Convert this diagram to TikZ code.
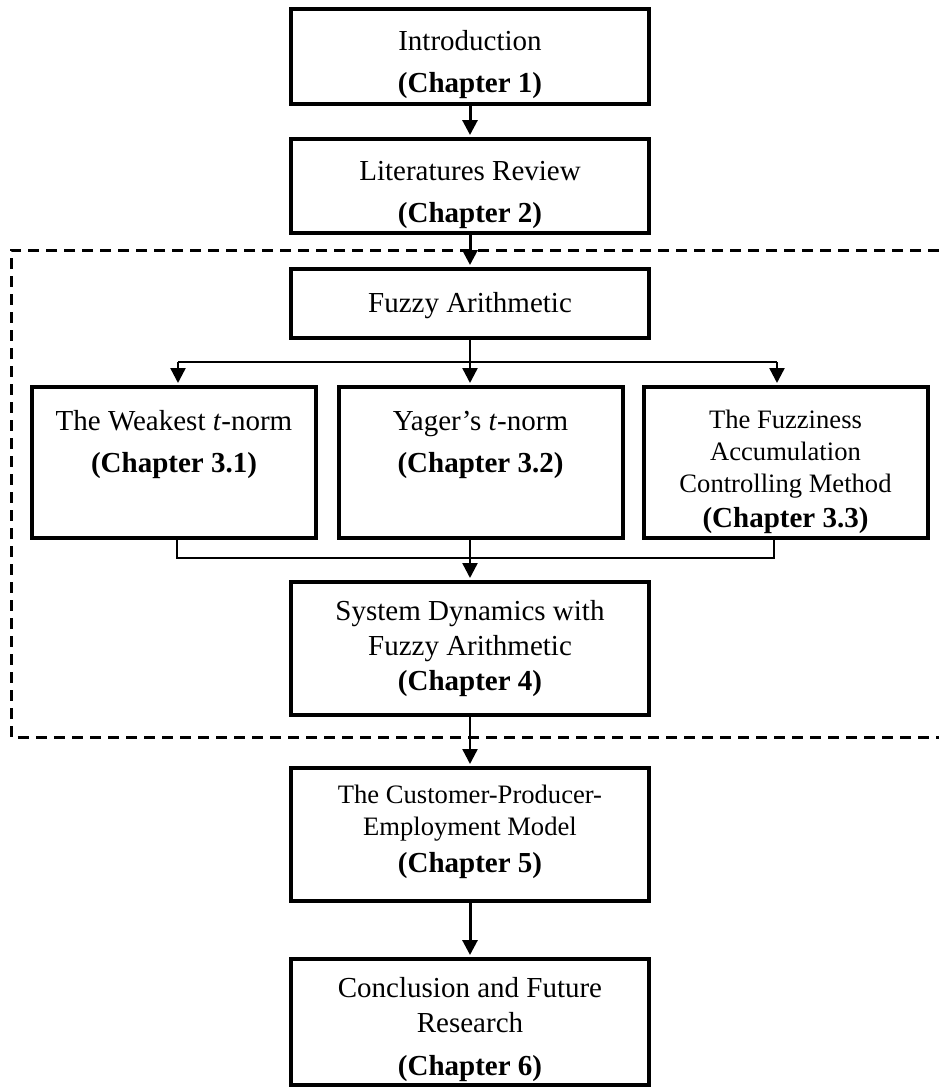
\documentclass[tikz,border=0pt]{standalone}
\usepackage{fontspec}
\setmainfont{Liberation Serif}
\usetikzlibrary{positioning,arrows.meta}

\begin{document}
\begin{tikzpicture}%
    [>={Triangle[length=7.5pt,width=7.5pt]},
    x=0.5pt, y=-0.5pt,
    node distance=64.75pt,
    on grid,
    chapbox/.style={draw, line width=2pt, inner sep=0pt, minimum width=179pt,
      align=center, font=\fontsize{14.5}{21}\selectfont},
    rowbox/.style={chapbox, minimum width=142pt, minimum height=75.5pt},
    thick arrow/.style={->, shorten >=1pt, line width=1.5pt},
    thin arrow/.style={->, shorten >=1pt, line width=1.2pt},
    thin line/.style={line width=1.2pt},
    groupframe/.style={dash pattern=on 5.5pt off 3.5pt, line width=1.5pt}
    ]
    \useasboundingbox (0,0) rectangle (939,1089);

    \node[chapbox, minimum height=47.5pt, text height=38.5pt, text depth=3pt]
      (intro) at (470,56.5) {Introduction\\\textbf{(Chapter 1)}};
    \node[chapbox, minimum height=47pt, text height=39pt, text depth=3pt]
      (lit) [below=of intro] {Literatures Review\\\textbf{(Chapter 2)}};
    \node[chapbox, minimum height=34.5pt, text height=11.5pt, text depth=3pt]
      (fuzzy) [below=58.75pt of lit] {Fuzzy Arithmetic};

    \node[rowbox, text height=31pt, text depth=21.5pt]
      (yager) [below right=79.5pt and 5.25pt of fuzzy] {Yager's \textit{t}-norm\\\textbf{(Chapter 3.2)}};
    \node[rowbox, text height=31pt, text depth=21.5pt]
      (weak) [left=153.25pt of yager] {The Weakest \textit{t}-norm\\\textbf{(Chapter 3.1)}};
    \node[rowbox, text height=67.5pt, text depth=3pt, font=\fontsize{13.3}{16}\selectfont]
      (fuzzacc) [right=152.5pt of yager] {The Fuzziness\\Accumulation\\Controlling Method\\[1.5pt]\textbf{\fontsize{14.5}{16}\selectfont(Chapter 3.3)}};

    \node[chapbox, minimum height=66.5pt, text height=45pt, text depth=3.5pt, font=\fontsize{14.5}{17.5}\selectfont]
      (sysdyn) [below=172.5pt of fuzzy] {System Dynamics with\\Fuzzy Arithmetic\\\textbf{(Chapter 4)}};
    \node[chapbox, minimum height=66.5pt, text height=43.5pt, text depth=6pt, font=\fontsize{13.3}{16}\selectfont]
      (model) [below=93pt of sysdyn] {The Customer-Producer-\\Employment Model\\[2.5pt]\textbf{\fontsize{14.5}{16}\selectfont(Chapter 5)}};
    \node[chapbox, minimum height=63pt, text height=56pt, text depth=3pt, font=\fontsize{14.5}{17.5}\selectfont]
      (concl) [below=93.75pt of model] {Conclusion and Future\\Research\\[4pt]\textbf{(Chapter 6)}};

    % dashed frame round chapter 3 and 4
    \draw[groupframe] (939,250) -| (11,737) -- (939,737);

    \coordinate (split)  at (470,362);
    \coordinate (splitL) at (178,362);
    \coordinate (splitR) at (777,362);
    \coordinate (join)   at (470,558);
    \coordinate (joinL)  at (177,558);
    \coordinate (joinR)  at (774,558);

    \draw[thin line] (fuzzy) -- (split);
    \draw[thin line] (splitL) -- (splitR);
    \draw[thin line] (weak.south -| joinL) |- (joinR) -- (fuzzacc.south -| joinR);
    \draw[thin line] (yager.south -| join) -- (join);

    \path
    % FROM      STYLE               TO
    (intro)    edge[thick arrow]   (lit)
    (lit)      edge[thick arrow]   (fuzzy)
    (splitL)   edge[thin arrow]    (splitL |- weak.north)
    (split)    edge[thin arrow]    (split |- yager.north)
    (splitR)   edge[thin arrow]    (splitR |- fuzzacc.north)
    (join)     edge[thin arrow]    (sysdyn)
    (sysdyn)   edge[thin arrow]    (model)
    (model)    edge[thick arrow]   (concl)
    ;
\end{tikzpicture}
\end{document}
